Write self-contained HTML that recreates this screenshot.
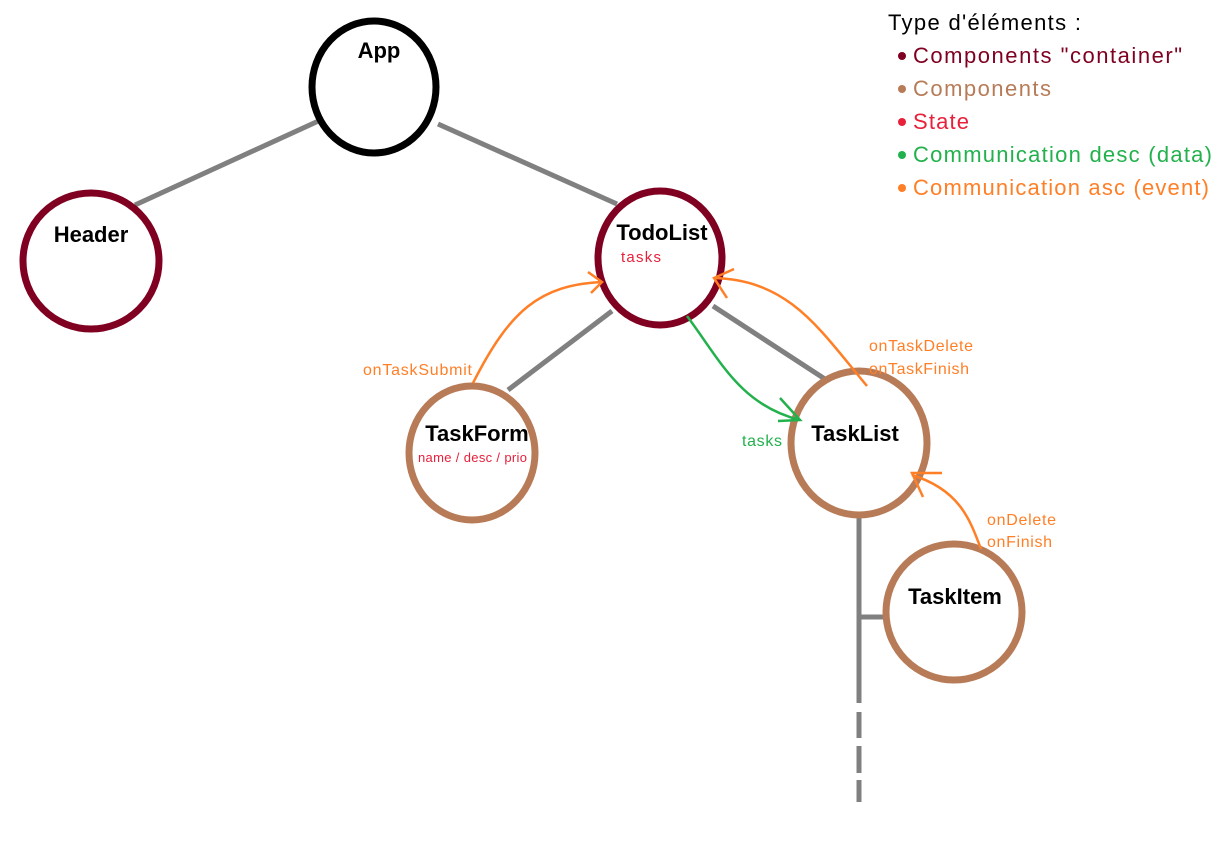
<!DOCTYPE html>
<html><head><meta charset="utf-8"><style>
body{margin:0;background:#fff;width:1221px;height:837px;overflow:hidden}
svg text{font-family:"Liberation Sans",sans-serif}
</style></head><body>
<svg width="1221" height="837" viewBox="0 0 1221 837">
<g stroke="#808080" stroke-width="5" fill="none">
<line x1="325" y1="118" x2="135" y2="205"/>
<line x1="438" y1="124" x2="617" y2="204"/>
<line x1="612" y1="311" x2="508" y2="390"/>
<line x1="713" y1="306" x2="831" y2="383"/>
<line x1="859" y1="515" x2="859" y2="703"/>
<line x1="859" y1="712" x2="859" y2="738"/>
<line x1="859" y1="746" x2="859" y2="773"/>
<line x1="859" y1="780" x2="859" y2="802"/>
<line x1="859" y1="617" x2="884" y2="617"/>
</g>
<g fill="#fff" stroke-width="7">
<ellipse cx="374" cy="87" rx="62" ry="66" stroke="#000"/>
<ellipse cx="91" cy="261" rx="68" ry="68" stroke="#7f0020"/>
<ellipse cx="660" cy="258" rx="62" ry="67" stroke="#7f0020"/>
<ellipse cx="472" cy="453" rx="63" ry="67" stroke="#b77b57"/>
<ellipse cx="859" cy="443" rx="68" ry="72" stroke="#b77b57"/>
<ellipse cx="954" cy="612" rx="68" ry="68" stroke="#b77b57"/>
</g>
<g font-weight="bold" font-size="22" fill="#000" text-anchor="middle">
<text x="379" y="58">App</text>
<text x="91" y="242">Header</text>
<text x="662" y="240">TodoList</text>
<text x="477" y="441">TaskForm</text>
<text x="855" y="441">TaskList</text>
<text x="955" y="604">TaskItem</text>
</g>
<text x="621" y="262" font-size="15" fill="#e8203a" textLength="40">tasks</text>
<text x="418" y="462" font-size="13" fill="#e8203a" textLength="109">name / desc / prio</text>
<g fill="none" stroke-width="2.5">
<path d="M473 383 C510 310 540 285 602 282" stroke="#ff7f27"/>
<path d="M588 272 L602 282 L591 293" stroke="#ff7f27"/>
<path d="M867 386 C820 330 790 280 714 278" stroke="#ff7f27"/>
<path d="M734 269 L714 278 L727 298" stroke="#ff7f27"/>
<path d="M981 549 C970 520 960 490 912 475" stroke="#ff7f27"/>
<path d="M942 473 L912 473 L923 497" stroke="#ff7f27"/>
<path d="M687 316 C720 360 740 405 800 420" stroke="#22b14c"/>
<path d="M780 398 L800 420 L778 421" stroke="#22b14c"/>
</g>
<g font-size="16" fill="#ff7f27">
<text x="363" y="375" textLength="109">onTaskSubmit</text>
<text x="869" y="351" textLength="104">onTaskDelete</text>
<text x="869" y="374" textLength="100">onTaskFinish</text>
<text x="987" y="525" textLength="69">onDelete</text>
<text x="987" y="547" textLength="65">onFinish</text>
</g>
<text x="742" y="446" font-size="16" fill="#22b14c" textLength="40">tasks</text>
<g font-size="22">
<text x="888" y="30" fill="#000" textLength="193">Type d'éléments :</text>
<circle cx="902" cy="56" r="4" fill="#7f0020"/>
<text x="913" y="63" fill="#7f0020" textLength="269">Components "container"</text>
<circle cx="902" cy="89" r="4" fill="#b77b57"/>
<text x="913" y="96" fill="#b77b57" textLength="138">Components</text>
<circle cx="902" cy="122" r="4" fill="#e8203a"/>
<text x="913" y="129" fill="#e8203a" textLength="56">State</text>
<circle cx="902" cy="155" r="4" fill="#22b14c"/>
<text x="913" y="162" fill="#22b14c" textLength="299">Communication desc (data)</text>
<circle cx="902" cy="188" r="4" fill="#ff7f27"/>
<text x="913" y="195" fill="#ff7f27" textLength="296">Communication asc (event)</text>
</g>
</svg>
</body></html>
